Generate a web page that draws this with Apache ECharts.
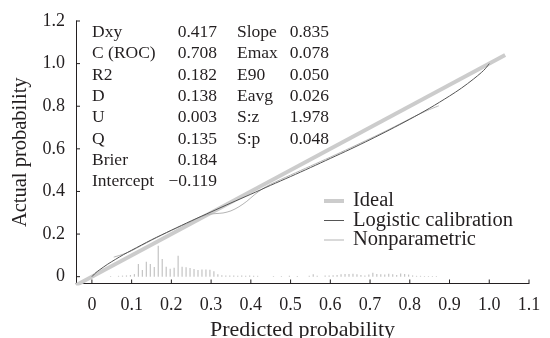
<!DOCTYPE html>
<html>
<head>
<meta charset="utf-8">
<script src="https://cdn.jsdelivr.net/npm/echarts@6/dist/echarts.min.js"></script>
<style>
html,body{margin:0;padding:0;background:#fff;}
#chart{width:550px;height:338px;}
</style>
</head>
<body>
<div id="chart"></div>
<script>
// ---- data ----
var xTickValues = [0, 0.1, 0.2, 0.3, 0.4, 0.5, 0.6, 0.7, 0.8, 0.9, 1.0, 1.1];
var xTickLabels = ['0', '0.1', '0.2', '0.3', '0.4', '0.5', '0.6', '0.7', '0.8', '0.9', '1.0', '1.1'];
var yTickValues = [0, 0.2, 0.4, 0.6, 0.8, 1.0, 1.2];
var yTickLabels = ['0', '0.2', '0.4', '0.6', '0.8', '1.0', '1.2'];

var idealX = [-0.04, 1.04];
var idealY = [-0.04, 1.04];

var logisticX = [0, 0.01, 0.02, 0.04, 0.06, 0.08, 0.1, 0.15, 0.2, 0.25, 0.3, 0.35, 0.4, 0.45, 0.5, 0.55, 0.6, 0.65, 0.7, 0.75, 0.8, 0.85, 0.9, 0.93, 0.96, 0.98, 0.99, 1.0];
var logisticY = [0, 0.019, 0.033, 0.059, 0.082, 0.104, 0.124, 0.173, 0.218, 0.262, 0.304, 0.346, 0.387, 0.429, 0.470, 0.512, 0.555, 0.598, 0.643, 0.690, 0.739, 0.791, 0.848, 0.885, 0.927, 0.958, 0.976, 1.0];

var nonparX = [0.055, 0.07, 0.085, 0.1, 0.15, 0.2, 0.25, 0.27, 0.29, 0.31, 0.33, 0.35, 0.37, 0.39, 0.41, 0.43, 0.45, 0.5, 0.55, 0.6, 0.65, 0.7, 0.75, 0.8, 0.84, 0.873];
var nonparY = [0.092, 0.100, 0.110, 0.122, 0.171, 0.217, 0.259, 0.278, 0.291, 0.296, 0.299, 0.309, 0.328, 0.354, 0.386, 0.413, 0.434, 0.477, 0.519, 0.561, 0.604, 0.648, 0.693, 0.741, 0.777, 0.802];

var spikeX = [0.047, 0.067, 0.077, 0.087, 0.097, 0.107, 0.117, 0.127, 0.137, 0.147, 0.157, 0.167, 0.177, 0.187, 0.197, 0.207, 0.217, 0.227, 0.237, 0.247, 0.257, 0.267, 0.277, 0.287, 0.297, 0.307, 0.317, 0.327, 0.337, 0.347, 0.357, 0.367, 0.377, 0.387, 0.397, 0.407, 0.417, 0.457, 0.477, 0.497, 0.517, 0.547, 0.557, 0.567, 0.587, 0.597, 0.607, 0.617, 0.627, 0.637, 0.647, 0.657, 0.667, 0.677, 0.687, 0.697, 0.707, 0.717, 0.727, 0.737, 0.747, 0.757, 0.767, 0.777, 0.787, 0.797, 0.807, 0.817, 0.827, 0.837, 0.847, 0.857, 0.867];
var spikeH = [0.003, 0.004, 0.005, 0.006, 0.008, 0.012, 0.059, 0.031, 0.070, 0.060, 0.045, 0.145, 0.083, 0.047, 0.037, 0.042, 0.098, 0.047, 0.044, 0.041, 0.036, 0.031, 0.034, 0.034, 0.033, 0.025, 0.012, 0.007, 0.005, 0.006, 0.005, 0.004, 0.005, 0.004, 0.005, 0.004, 0.004, 0.003, 0.003, 0.004, 0.003, 0.004, 0.012, 0.004, 0.005, 0.006, 0.007, 0.008, 0.011, 0.013, 0.013, 0.014, 0.012, 0.008, 0.006, 0.010, 0.019, 0.013, 0.012, 0.010, 0.014, 0.012, 0.008, 0.015, 0.013, 0.010, 0.006, 0.004, 0.004, 0.003, 0.003, 0.003, 0.003];

var statNames1 = ['Dxy', 'C (ROC)', 'R2', 'D', 'U', 'Q', 'Brier', 'Intercept'];
var statVals1 = ['0.417', '0.708', '0.182', '0.138', '0.003', '0.135', '0.184', '\u22120.119'];
var statNames2 = ['Slope', 'Emax', 'E90', 'Eavg', 'S:z', 'S:p'];
var statVals2 = ['0.835', '0.078', '0.050', '0.026', '1.978', '0.048'];

var seriesNames = ['Ideal', 'Logistic calibration', 'Nonparametric'];

// ---- build ----
function zip(a, b) { return a.map(function (v, i) { return [v, b[i]]; }); }

var FONT = '"Liberation Serif", "Times New Roman", serif';
var TXT = '#231f20';
var IDEAL_C = '#cccccc', LOGI_C = '#555555', NONP_C = '#b4b4b4';
// axis extents (min is a multiple of the step interval)
var X_MIN = -0.04, X_MAX = 1.1, X_STEP = 0.02;
var Y_MIN = -0.032, Y_MAX = 1.2, Y_STEP = 0.008;

var chart = echarts.init(document.getElementById('chart'), null, {renderer: 'canvas'});

var graphics = [];
var rowTop = 32.5, rowStep = 21.3;
function addText(str, x, y, align) {
  graphics.push({
    type: 'text', x: x, y: y, silent: true,
    style: {text: str, fill: TXT, font: '17.5px ' + FONT, textAlign: align, textVerticalAlign: 'middle'}
  });
}
statNames1.forEach(function (s, i) { addText(s, 92, rowTop + rowStep * i, 'left'); });
statVals1.forEach(function (s, i) { addText(s, 217, rowTop + rowStep * i, 'right'); });
statNames2.forEach(function (s, i) { addText(s, 237, rowTop + rowStep * i, 'left'); });
statVals2.forEach(function (s, i) { addText(s, 329, rowTop + rowStep * i, 'right'); });

// tick marks (inside), positioned through the axes' own scales
var tickData = xTickValues.map(function (v) { return [v, 0]; })
  .concat(yTickValues.map(function (v) { return [v, 1]; }));

function labelFor(values, labels) {
  return function (v) {
    for (var i = 0; i < values.length; i++) if (Math.abs(values[i] - v) < 1e-6) return labels[i];
    return '';
  };
}

var option = {
  backgroundColor: '#fff',
  animation: false,
  grid: {left: 76, right: 21, top: 21, bottom: 54.5, containLabel: false, outerBoundsMode: 'none'},
  legend: {
    orient: 'vertical', left: 322, top: 190.5, padding: 0,
    itemWidth: 20, itemHeight: 10, itemGap: -1.5,
    data: [
      {name: seriesNames[0], lineStyle: {width: 4, color: IDEAL_C}},
      {name: seriesNames[1], lineStyle: {width: 1, color: LOGI_C}},
      {name: seriesNames[2], lineStyle: {width: 1, color: NONP_C}}
    ],
    itemStyle: {opacity: 0},
    textStyle: {fontFamily: FONT, fontSize: 20.5, color: TXT, padding: [0, 0, 0, 4], lineHeight: 18.5}
  },
  xAxis: {
    type: 'value', min: X_MIN, max: X_MAX, interval: X_STEP,
    name: 'Predicted probability', nameLocation: 'middle', nameGap: 35,
    nameTextStyle: {fontFamily: FONT, fontSize: 22, color: TXT},
    axisLine: {show: true, onZero: false, lineStyle: {color: TXT, width: 1}},
    axisTick: {show: false},
    axisLabel: {
      margin: 13, showMinLabel: true, showMaxLabel: true, hideOverlap: false,
      fontFamily: FONT, fontSize: 18, color: TXT,
      formatter: labelFor(xTickValues, xTickLabels)
    },
    splitLine: {show: false}
  },
  yAxis: {
    type: 'value', min: Y_MIN, max: Y_MAX, interval: Y_STEP,
    name: 'Actual probability', nameLocation: 'middle', nameGap: 45, nameRotate: 90,
    nameTextStyle: {fontFamily: FONT, fontSize: 20.5, color: TXT},
    axisLine: {show: true, onZero: false, lineStyle: {color: TXT, width: 1}},
    axisTick: {show: false},
    axisLabel: {
      margin: 11, hideOverlap: false,
      fontFamily: FONT, fontSize: 18, color: TXT,
      formatter: labelFor(yTickValues, yTickLabels)
    },
    splitLine: {show: false}
  },
  graphic: graphics,
  series: [
    {
      name: 'Spikes', type: 'bar', data: zip(spikeX, spikeH), barWidth: 1.2,
      itemStyle: {color: '#c4c4c4'}, silent: true, z: 1
    },
    {
      name: seriesNames[0], type: 'line', data: zip(idealX, idealY), symbol: 'none',
      lineStyle: {color: IDEAL_C, width: 4}, itemStyle: {color: IDEAL_C}, z: 2
    },
    {
      name: seriesNames[1], type: 'line', data: zip(logisticX, logisticY), symbol: 'none', smooth: 0.3,
      lineStyle: {color: LOGI_C, width: 1}, itemStyle: {color: LOGI_C}, z: 4
    },
    {
      name: seriesNames[2], type: 'line', data: zip(nonparX, nonparY), symbol: 'none', smooth: 0.3,
      lineStyle: {color: NONP_C, width: 1}, itemStyle: {color: NONP_C}, z: 3
    },
    {
      name: 'Ticks', type: 'custom', data: tickData, clip: false, silent: true, z: 5,
      renderItem: function (params, api) {
        var v = api.value(0), which = api.value(1), p, shape;
        if (which === 0) {
          p = api.coord([v, Y_MIN]);
          shape = {x1: p[0], y1: p[1], x2: p[0], y2: p[1] - 4};
        } else {
          p = api.coord([X_MIN, v]);
          shape = {x1: p[0], y1: p[1], x2: p[0] + 4, y2: p[1]};
        }
        return {type: 'line', shape: shape, style: {stroke: TXT, lineWidth: 1}};
      }
    }
  ]
};
chart.setOption(option);
</script>
</body>
</html>
